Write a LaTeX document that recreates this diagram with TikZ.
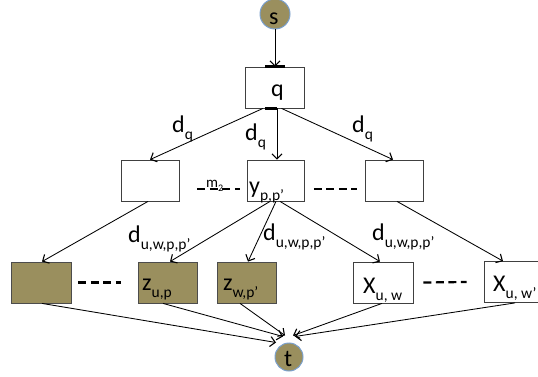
\documentclass[tikz,border=0pt]{standalone}
\usepackage{fontspec}
\setmainfont{Carlito}
\usetikzlibrary{arrows.meta}
\definecolor{olive}{HTML}{9A8F5E}
\definecolor{ring}{HTML}{7BA0CD}
\definecolor{edge}{HTML}{404040}
\newcommand\sub[1]{\raisebox{-7pt}{\fontsize{15.5}{16}\selectfont #1}}
\begin{document}
\begin{tikzpicture}[x=1pt,y=-1pt,
  font=\fontsize{24}{27}\selectfont,
  box/.style={draw=edge,line width=0.8pt,fill=white,minimum height=41pt,inner sep=0pt},
  obox/.style={box,fill=olive,draw=black!70},
  term/.style={circle,fill=olive,draw=ring,line width=1pt,minimum size=#1,inner sep=0pt},
  txt/.style={anchor=base west,inner sep=0pt},
  arr/.style={line width=0.85pt,-{Straight Barb[length=5pt,width=10pt,line width=1.1pt]}},
  dsh/.style={line width=2.2pt,dash pattern=on 8pt off 4.5pt},
  bar/.style={line width=3pt}]
\useasboundingbox (0,0) rectangle (538,377);
% nodes
\node[term=30pt] (s) at (275,14) {};
\node[txt] (slab) at (269,25) {s};
\node[box,minimum width=59pt] (q) at (274.5,87.5) {};
\node[box,minimum width=58pt] (L) at (150,180.5) {};
\node[box,minimum width=57pt] (M) at (275.5,180.5) {};
\node[box,minimum width=58pt] (R) at (394,180.5) {};
\node[obox,minimum width=60pt] (B1) at (41,282.5) {};
\node[obox,minimum width=59pt] (Zup) at (167.5,282.5) {};
\node[obox,minimum width=59pt] (Zwp) at (246.5,282.5) {};
\node[box,minimum width=60pt] (Xuw) at (383,282.5) {};
\node[box,minimum width=54pt] (Xuwp) at (511,282) {};
\node[term=28pt] (t) at (289,357) {};
\node[txt] (tlab) at (284,366) {t};
% texts
\node[txt] (qlab) at (271,97) {q};
\node[txt] (ylab) at (249,193) {y\sub{p,p’}};
\node[txt] (zup) at (142,290) {z\sub{u,p}};
\node[txt] (zwp) at (223,290) {z\sub{w,p’}};
\node[txt] (xuw) at (363,293) {X\sub{u, w}};
\node[txt] (xuwp) at (493,291) {X\sub{u, w’}};
\node[txt] (dq1) at (172,132) {d\sub{q}};
\node[txt] (dq2) at (245,140) {d\sub{q}};
\node[txt] (dq3) at (352,132) {d\sub{q}};
\node[txt] (du1) at (128,242) {d\sub{u,w,p,p’}};
\node[txt] (du2) at (263,240) {d\sub{u,w,p,p’}};
\node[txt] (du3) at (372,240) {d\sub{u,w,p,p’}};
\node[txt,font=\fontsize{15}{17}\selectfont] (m2) at (206,187) {m\raisebox{-4pt}{\fontsize{10}{10}\selectfont 2}};
% dashed links
\draw[dsh] ([xshift=18pt,yshift=-8.5pt]L.east) -- ([xshift=-7pt,yshift=-8.5pt]M.west);
\draw[dsh] ([xshift=9.5pt,yshift=-8.5pt]M.east) -- ([xshift=-8pt,yshift=-8.5pt]R.west);
\draw[dsh] ([xshift=7pt]B1.east) -- ([xshift=-17pt]Zup.west);
\draw[dsh] ([xshift=10pt]Xuw.east) -- ([xshift=-17pt]Xuwp.west);
% bars
\draw[bar] ([xshift=-9.5pt]q.north) -- ([xshift=10.5pt]q.north);
\draw[bar] ([xshift=-9.5pt]q.south) -- ([xshift=2.5pt]q.south);
% connectors
\draw[arr] (s.south) -- (s.south |- q.north);
\draw[arr] ([xshift=-11.5pt]q.south) -- (L.north);
\draw[arr] ([xshift=2.5pt]q.south) -- ([xshift=1.5pt]M.north);
\draw[arr] ([xshift=7pt]q.south) -- ([xshift=-1pt]R.north);
\draw[arr] ([xshift=-2pt]L.south) -- ([xshift=1pt]B1.north);
\draw[arr] ([xshift=-5.5pt]M.south) -- ([xshift=2.5pt]Zup.north);
\draw[arr] ([xshift=0.5pt]M.south) -- ([xshift=1.5pt]Zwp.north);
\draw[arr] ([xshift=4.5pt]M.south) -- ([xshift=-3pt]Xuw.north);
\draw[arr] ([xshift=3pt]R.south) -- ([xshift=-8pt]Xuwp.north);
\draw[arr] ([xshift=1pt]B1.south) -- ([xshift=-13pt]t.north);
\draw[arr] ([xshift=-4.5pt]Zup.south) -- ([xshift=-6pt,yshift=6pt]t.north);
\draw[arr] ([xshift=-6.5pt]Zwp.south) -- ([xshift=-4pt,yshift=7pt]t.north);
\draw[arr] ([xshift=-1pt]Xuw.south) -- ([xshift=4pt,yshift=7pt]t.north);
\draw[arr] ([xshift=4pt]Xuwp.south) -- ([xshift=6pt,yshift=6pt]t.north);
\end{tikzpicture}
\end{document}
